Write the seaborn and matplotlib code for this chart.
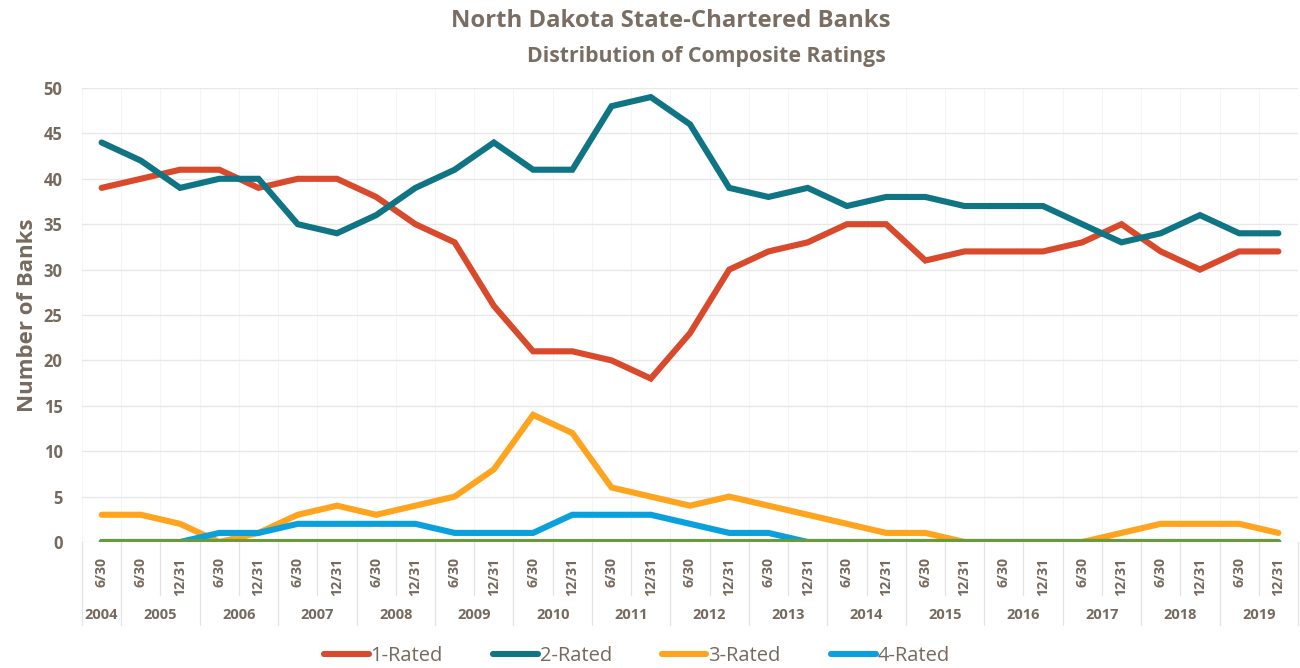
import numpy as np
import pandas as pd
import matplotlib
matplotlib.use("Agg")
import matplotlib.pyplot as plt
import seaborn as sns

# half-year periods, 6/30/2004 .. 12/31/2019
periods = ["6/30"] + ["6/30", "12/31"] * 15
years = list(range(2004, 2020))

rated_1 = [39, 40, 41, 41, 39, 40, 40, 38, 35, 33, 26, 21, 21, 20, 18, 23,
           30, 32, 33, 35, 35, 31, 32, 32, 32, 33, 35, 32, 30, 32, 32]
rated_2 = [44, 42, 39, 40, 40, 35, 34, 36, 39, 41, 44, 41, 41, 48, 49, 46,
           39, 38, 39, 37, 38, 38, 37, 37, 37, 35, 33, 34, 36, 34, 34]
rated_3 = [3, 3, 2, 0, 1, 3, 4, 3, 4, 5, 8, 14, 12, 6, 5, 4,
           5, 4, 3, 2, 1, 1, 0, 0, 0, 0, 1, 2, 2, 2, 1]
rated_4 = [0, 0, 0, 1, 1, 2, 2, 2, 2, 1, 1, 1, 3, 3, 3, 2,
           1, 1, 0, 0, 0, 0, 0, 0, 0, 0, 0, 0, 0, 0, 0]
rated_5 = [0] * 31

series = {"1-Rated": rated_1, "2-Rated": rated_2, "3-Rated": rated_3,
          "4-Rated": rated_4, "5-Rated": rated_5}
colors = {"1-Rated": "#D84A2B", "2-Rated": "#0F7483", "3-Rated": "#FFA41E",
          "4-Rated": "#0AA0DC", "5-Rated": "#6B9A3C"}

rows = []
for name, vals in series.items():
    for i, v in enumerate(vals):
        rows.append({"idx": i, "Rating": name, "Banks": v})
df = pd.DataFrame(rows)

sns.set_theme(style="white")
plt.rcParams["font.family"] = ["Open Sans", "DejaVu Sans"]
txt = "#76695F"

fig, ax = plt.subplots(figsize=(13, 6.68), dpi=100)
fig.subplots_adjust(left=82 / 1300, right=1298 / 1300, top=1 - 88 / 668, bottom=1 - 542 / 668)

sns.lineplot(data=df, x="idx", y="Banks", hue="Rating", palette=colors,
             linewidth=4.4, ax=ax, legend=False, sort=False)
for ln in ax.lines:
    ln.set_solid_capstyle("round")
    ln.set_solid_joinstyle("miter")

ax.set_xlim(-0.5, 30.5)
ax.set_ylim(0, 50)
ax.set_yticks(range(0, 51, 5))
ax.tick_params(axis="y", labelsize=12, labelcolor=txt, pad=14, length=0)
for t in ax.get_yticklabels():
    t.set_fontweight("bold")
ax.grid(axis="y", color="#e8e8e8", linewidth=1)
ax.set_xticks(np.arange(-0.5, 31, 1), minor=True)
ax.grid(axis="x", which="minor", color="#f5f5f5", linewidth=0.8)
for s in ax.spines.values():
    s.set_visible(False)

ax.set_xticks(range(31))
ax.set_xticklabels(periods, rotation=90, fontsize=10.2, fontweight="bold", color=txt)
ax.tick_params(axis="x", length=0, pad=11)
ax.set_xlabel("")
ax.set_ylabel("Number of Banks", fontsize=16, fontweight="bold", color=txt, labelpad=4)

# separators under the axis
tr = ax.get_xaxis_transform()
year_bounds = [-0.5] + [0.5 + 2 * k for k in range(16)]
for b in np.arange(-0.5, 31, 1):
    low = -0.183 if b in year_bounds else -0.117
    ax.plot([b, b], [0, low], transform=tr, color="#e3e3e3", lw=0.9, clip_on=False)
year_centers = [0] + [1.5 + 2 * k for k in range(15)]
for yr, c in zip(years, year_centers):
    ax.text(c, -0.16, str(yr), transform=tr, ha="center", va="center",
            fontsize=10.5, fontweight="bold", color=txt)

fig.text(0.516, 0.968, "North Dakota State-Chartered Banks", ha="center", va="center",
         fontsize=17.2, fontweight="bold", color="#7a6e64")
fig.text(0.543, 0.916, "Distribution of Composite Ratings", ha="center", va="center",
         fontsize=15.3, fontweight="bold", color="#7a6e64")

handles = [plt.Line2D([], [], color=colors[k], lw=4.4, solid_capstyle="round")
           for k in ["1-Rated", "2-Rated", "3-Rated", "4-Rated"]]
leg = fig.legend(handles, ["1-Rated", "2-Rated", "3-Rated", "4-Rated"], loc="center",
                 bbox_to_anchor=(0.49, 0.018), ncol=4, frameon=False, fontsize=14.5,
                 handlelength=2.2, handletextpad=0.1, columnspacing=2.5)
for t in leg.get_texts():
    t.set_color(txt)

fig.savefig("out.png", dpi=100)
